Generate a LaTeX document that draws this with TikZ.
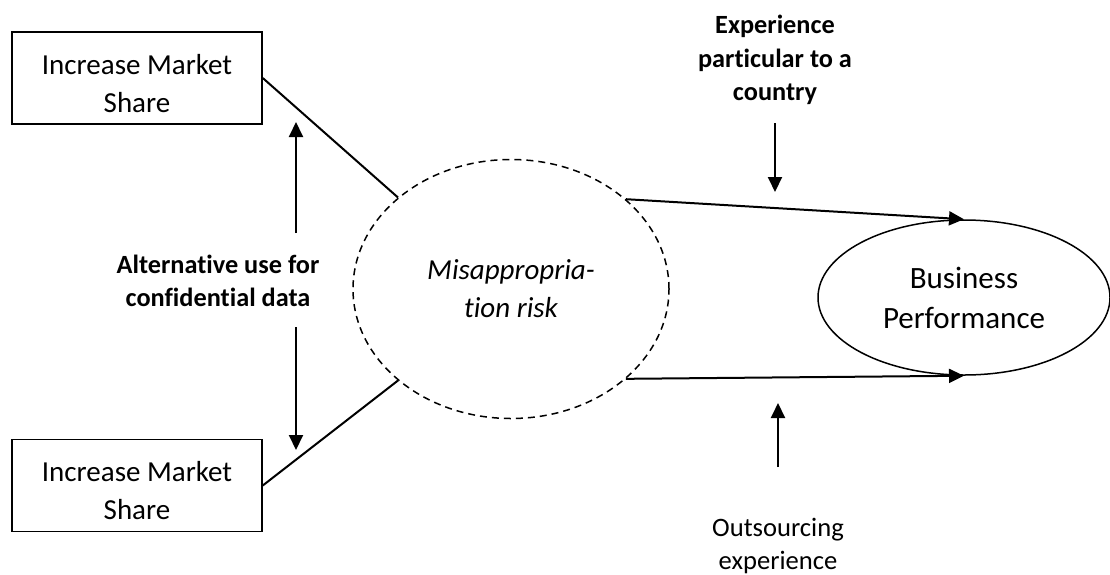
\documentclass[tikz,border=0pt]{standalone}
\usepackage{fontspec}
\setmainfont{Carlito}[Ligatures={NoCommon,NoRequired,NoContextual}]
\usetikzlibrary{shapes.geometric}
\usetikzlibrary{arrows.meta}
\tikzset{
    sharebox/.style={draw, line width=1.5pt, minimum width=250pt, minimum height=92pt,
        text height=69pt, align=center, font=\fontsize{29}{38}\selectfont},
    riskcloud/.style={ellipse, draw, dash pattern=on 7pt off 5pt, line width=1.5pt,
        minimum width=316pt, minimum height=259pt, inner sep=0pt, align=center,
        font=\fontsize{29}{38}\selectfont\itshape},
    outcome/.style={ellipse, draw, line width=1.5pt, minimum width=292pt,
        minimum height=155pt, inner sep=0pt, align=center,
        font=\fontsize{31}{40}\selectfont},
    factor/.style={align=center, font=\fontsize{26.3}{33.5}\selectfont\bfseries},
    plainfactor/.style={align=center, font=\fontsize{26.6}{33}\selectfont},
    link/.style={line width=2pt},
    push/.style={line width=2pt, -{Triangle[length=15pt,width=14pt]}}
}

\begin{document}
\begin{tikzpicture}[x=1pt, y=-1pt]
    \useasboundingbox (0,0) rectangle (1110,574);

    \node[sharebox] (SHARE1) at (137,78) {Increase Market\\Share};
    \node[sharebox] (SHARE2) at (137,485.5) {Increase Market\\Share};

    \node[riskcloud] (RISK) at (511,289) {Misappropria-\\tion risk};
    \node[outcome] (PERF) at (964,297.5) {Business\\Performance};

    \node[factor] (ALT) at (218,281) {Alternative use for\\confidential data};
    \node[factor] (COUNTRY) at (775,60) {Experience\\particular to a\\country};
    \node[plainfactor] (OUTSRC) at (778,545.5) {Outsourcing\\experience};

    \coordinate (ALTUP) at (296,233);
    \coordinate (ALTUPTIP) at (296,122);
    \coordinate (ALTDOWN) at (296,327);
    \coordinate (ALTDOWNTIP) at (296,450);
    \coordinate (CTRYFROM) at (775,123);
    \coordinate (CTRYTIP) at (775,192);
    \coordinate (OUTFROM) at (778,467);
    \coordinate (OUTTIP) at (778,403);

    \draw[link] (SHARE1.east) -- (RISK.141);
    \draw[link] (SHARE2.east) -- (RISK.219);

    \draw[push] (RISK.38) -- (PERF.north);
    \draw[push] (RISK.322) -- (PERF.south);

    \draw[push] (ALTUP) -- (ALTUPTIP);
    \draw[push] (ALTDOWN) -- (ALTDOWNTIP);
    \draw[push] (CTRYFROM) -- (CTRYTIP);
    \draw[push] (OUTFROM) -- (OUTTIP);

    %\draw[help lines] (0,0) grid (1110,574);
\end{tikzpicture}
\end{document}
